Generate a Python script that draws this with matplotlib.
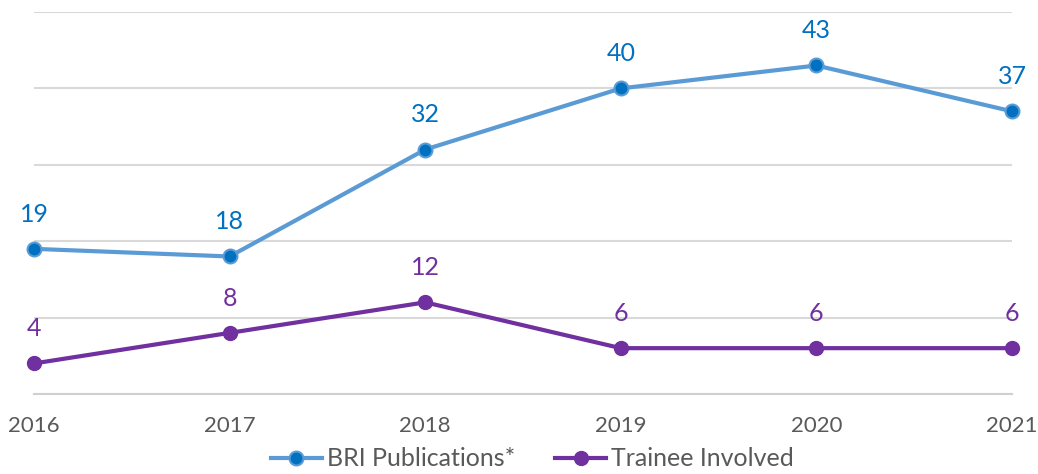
import matplotlib.pyplot as plt

years = [2016, 2017, 2018, 2019, 2020, 2021]
bri = [19, 18, 32, 40, 43, 37]
trainee = [4, 8, 12, 6, 6, 6]
yticks = [0, 10, 20, 30, 40, 50]

plt.rcParams['font.family'] = ['Lato', 'DejaVu Sans']

fig = plt.figure(figsize=(10.38, 4.74), dpi=100)
ax = fig.add_axes([34/1038, 80/474, (1012-34)/1038, (394-12)/474])

#lines
ax.plot(years, bri, color='#5B9BD5', lw=3, marker='o', ms=10,
        mfc='#0070C0', mec='#5B9BD5', mew=1.5, clip_on=False, zorder=3,
        label='BRI Publications*')
ax.plot(years, trainee, color='#7030A0', lw=3, marker='o', ms=10,
        mfc='#7030A0', mec='#7030A0', clip_on=False, zorder=3,
        label='Trainee Involved')

#data labels
for x, y in zip(years, bri):
    ax.annotate(str(y), (x, y), xytext=(0, 25), textcoords='offset points',
                ha='center', va='center', fontsize=18, color='#0070C0')
for x, y in zip(years, trainee):
    ax.annotate(str(y), (x, y), xytext=(0, 25), textcoords='offset points',
                ha='center', va='center', fontsize=18, color='#7030A0')

ax.set_xlim(2016, 2021)
ax.set_ylim(0, 50)
ax.set_xticks(years)
ax.set_yticks(yticks)
ax.set_yticklabels([])
ax.grid(axis='y', color='#D9D9D9', lw=1.5)
ax.set_axisbelow(True)
for s in ['top', 'right', 'left']:
    ax.spines[s].set_visible(False)
ax.spines['bottom'].set_color('#D0D0D0')
ax.spines['bottom'].set_linewidth(1.5)
ax.tick_params(axis='both', length=0)
ax.tick_params(axis='x', labelsize=16, labelcolor='#595959', pad=16)

fig.legend(loc='center', bbox_to_anchor=(0.513, 0.032), ncol=2, frameon=False,
           fontsize=18, labelcolor='#595959', handlelength=2.05,
           handletextpad=0.2, columnspacing=1.6)

fig.savefig('out.png', dpi=100)
